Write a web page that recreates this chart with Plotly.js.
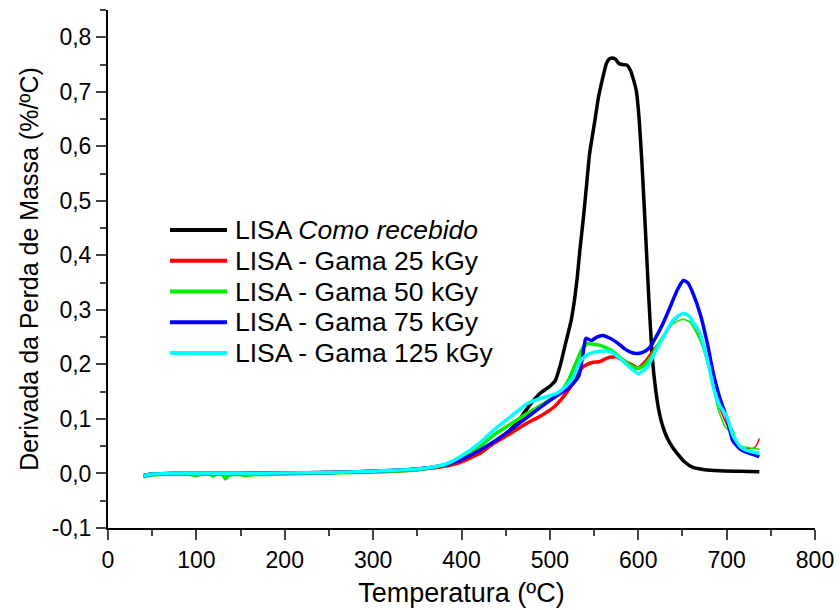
<!DOCTYPE html>
<html>
<head>
<meta charset="utf-8">
<script src="https://cdn.plot.ly/plotly-3.0.1.min.js"></script>
<style>html,body{margin:0;padding:0;background:#fff;}#chart{width:840px;height:610px;}</style>
</head>
<body>
<div id="chart"></div>
<script>
// Temperatura (ºC) and derivada da perda de massa (%/ºC)
var seriesNames = ["LISA <i>Como recebido</i>", "LISA - Gama 25 kGy", "LISA - Gama 50 kGy", "LISA - Gama 75 kGy", "LISA - Gama 125 kGy"];
var seriesColors = ["#000000", "#ff0000", "#00ee00", "#0000ff", "#00ffff"];

var tBlack = [40,50,70,100,150,200,250,300,340,370,390,410,430,450,465,477,489,500,506,512,518,524,528,531,534,538,541,545,551,555,559,564,567,570,574,578,582,587,591,595,598,601,604,608,612,616,620,624,628,632,638,644,652,662,675,692,715,737];
var yBlack = [-0.004,-0.001,0.0,0.0,0.0,0.001,0.002,0.004,0.007,0.012,0.02,0.033,0.05,0.072,0.098,0.125,0.147,0.16,0.17,0.2,0.24,0.28,0.32,0.36,0.41,0.47,0.52,0.587,0.648,0.69,0.72,0.752,0.76,0.762,0.76,0.752,0.75,0.749,0.74,0.72,0.70,0.65,0.574,0.45,0.32,0.21,0.15,0.11,0.085,0.068,0.05,0.037,0.022,0.011,0.007,0.005,0.004,0.003];

var tRed = [40,50,80,150,200,250,300,350,380,398,420,436,455,474,490,504,515,523,530,537,541,549,556,564,568,575,583,592,600,608,616,624];
var yRed = [-0.004,-0.001,0.0,0.0,0.001,0.002,0.003,0.007,0.013,0.02,0.036,0.055,0.073,0.092,0.106,0.121,0.14,0.158,0.178,0.195,0.199,0.204,0.205,0.211,0.213,0.214,0.207,0.2,0.194,0.205,0.222,0.238];
var tRedTail = [624,632,640,646,651,657,663,670,678,685,692,700,707,714,719,730,734,737];
var yRedTail = [0.238,0.258,0.278,0.288,0.292,0.288,0.272,0.25,0.205,0.16,0.12,0.09,0.065,0.052,0.046,0.046,0.052,0.064];

var tGreen = [40,50,70,90,100,105,115,119,124,130,133,137,150,155,165,200,250,300,350,380,398,420,436,455,474,490,500,510,521,530,537,543,550,557,570,580,590,598,605,615,624,630];
var yGreen = [-0.006,-0.003,-0.001,-0.001,-0.004,-0.001,-0.001,-0.005,-0.001,-0.003,-0.01,-0.003,-0.002,-0.004,-0.002,-0.001,0.001,0.003,0.007,0.015,0.025,0.048,0.07,0.09,0.11,0.125,0.135,0.145,0.171,0.205,0.23,0.238,0.237,0.235,0.225,0.212,0.2,0.193,0.196,0.215,0.24,0.255];
var tGreenTail = [630,636,645,651,658,665,672,680,690,695,698,702,706,709,712,716,722,737];
var yGreenTail = [0.255,0.27,0.28,0.283,0.278,0.26,0.235,0.19,0.12,0.097,0.086,0.08,0.083,0.07,0.056,0.05,0.048,0.044];

var tBlue = [40,50,80,150,200,250,300,350,380,398,420,440,460,480,495,508,520,528,533,537,540,541,547,553,560,568,576,585,592,598,605,613,620,628,636,644,651,656,662,670,678,685,692,700,707,715,722,737];
var yBlue = [-0.004,-0.001,0.0,0.0,0.001,0.002,0.004,0.008,0.015,0.024,0.042,0.062,0.085,0.11,0.128,0.143,0.155,0.168,0.18,0.215,0.245,0.248,0.244,0.25,0.253,0.248,0.24,0.228,0.222,0.22,0.222,0.231,0.25,0.275,0.305,0.336,0.354,0.35,0.33,0.293,0.24,0.183,0.14,0.103,0.06,0.045,0.039,0.031];

var tCyan = [40,50,80,150,200,250,300,350,380,398,420,436,460,474,490,508,518,526,534,540,545,556,568,580,590,600,610,624,639,646,651,657,663,670,678,685,692,700,707,715,722,737];
var yCyan = [-0.004,-0.001,0.0,0.0,0.001,0.002,0.004,0.008,0.016,0.03,0.055,0.079,0.11,0.128,0.138,0.147,0.16,0.175,0.205,0.215,0.22,0.224,0.224,0.21,0.195,0.183,0.195,0.238,0.28,0.29,0.294,0.29,0.275,0.257,0.21,0.158,0.125,0.105,0.07,0.05,0.043,0.037];

var xTickVals = [0,100,200,300,400,500,600,700,800];
var xTickText = ["0","100","200","300","400","500","600","700","800"];
var yTickVals = [-0.1,0.0,0.1,0.2,0.3,0.4,0.5,0.6,0.7,0.8];
var yTickText = ["-0,1","0,0","0,1","0,2","0,3","0,4","0,5","0,6","0,7","0,8"];

var FONT = "Liberation Sans, Arial, sans-serif";
var W = 3.5;

function tr(x, y, name, color, width) {
  return {x: x, y: y, name: name, type: "scatter", mode: "lines",
          line: {color: color, width: width, shape: "spline", smoothing: 0.5},
          showlegend: false, hoverinfo: "skip"};
}

var data = [
  tr(tBlack, yBlack, seriesNames[0], seriesColors[0], W),
  tr(tRed, yRed, seriesNames[1], seriesColors[1], W),
  tr(tRedTail, yRedTail, seriesNames[1], seriesColors[1], 1.5),
  tr(tGreen, yGreen, seriesNames[2], seriesColors[2], W),
  tr(tGreenTail, yGreenTail, seriesNames[2], seriesColors[2], 1.5),
  tr(tBlue, yBlue, seriesNames[3], seriesColors[3], W),
  tr(tCyan, yCyan, seriesNames[4], seriesColors[4], W)
];

// legend drawn as shapes + annotations (paper coordinates)
var legX0 = 0.0877, legX1 = 0.1683, legTextX = 0.1775;
var legY0 = 0.5753, legDy = 0.0594;
var shapes = [], annotations = [];
for (var i = 0; i < seriesNames.length; i++) {
  var yy = legY0 - i * legDy;
  shapes.push({type: "line", xref: "paper", yref: "paper", x0: legX0, x1: legX1, y0: yy, y1: yy,
               line: {color: seriesColors[i], width: 4}});
  annotations.push({xref: "paper", yref: "paper", x: legTextX, y: yy, xanchor: "left", yanchor: "middle",
                    text: seriesNames[i], showarrow: false, font: {family: FONT, size: 26.5, color: "#000"}});
}

var layout = {
  width: 840, height: 610,
  margin: {l: 108, r: 25, t: 10, b: 82},
  paper_bgcolor: "#ffffff", plot_bgcolor: "#ffffff",
  font: {family: FONT, color: "#000000"},
  showlegend: false,
  shapes: shapes,
  annotations: annotations,
  xaxis: {
    range: [0, 800], tickvals: xTickVals, ticktext: xTickText, ticks: "outside", ticklen: 10, tickwidth: 2,
    showline: true, linewidth: 2, linecolor: "#000", showgrid: false, zeroline: false,
    tickfont: {family: FONT, size: 23}, fixedrange: true,
    minor: {dtick: 50, ticks: "outside", ticklen: 6, tickwidth: 2, showgrid: false},
    title: {text: "Temperatura (ºC)", font: {family: FONT, size: 27}, standoff: 12}
  },
  yaxis: {
    range: [-0.1, 0.85], tickvals: yTickVals, ticktext: yTickText, ticks: "outside", ticklen: 10, tickwidth: 2,
    showline: true, linewidth: 2, linecolor: "#000", showgrid: false, zeroline: false,
    tickfont: {family: FONT, size: 23}, fixedrange: true,
    minor: {dtick: 0.05, ticks: "outside", ticklen: 6, tickwidth: 2, showgrid: false},
    title: {text: "Derivada da Perda de Massa (%/ºC)", font: {family: FONT, size: 25}, standoff: 6}
  }
};

Plotly.newPlot("chart", data, layout, {displayModeBar: false, staticPlot: true});
</script>
</body>
</html>
